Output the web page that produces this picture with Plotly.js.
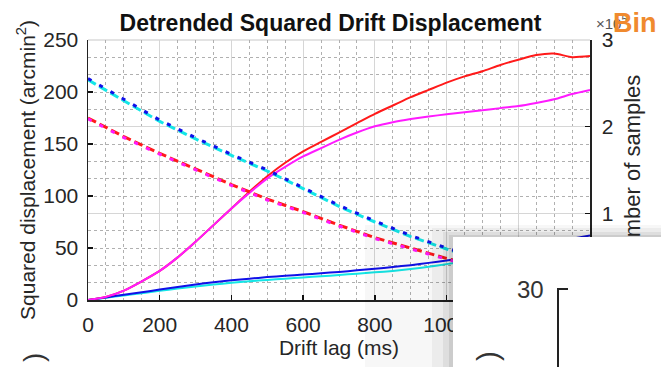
<!DOCTYPE html>
<html>
<head>
<meta charset="utf-8">
<script src="https://cdn.plot.ly/plotly-3.0.1.min.js"></script>
<style>html,body{margin:0;padding:0;background:#fff;}#chart{width:661px;height:367px;}</style>
</head>
<body>
<div id="chart"></div>
<script>
// ---- Data ----
const lag = [0,50,100,150,200,250,300,350,400,450,500,550,600,650,700,750,800,850,900,950,1000,1050,1100,1150,1200,1250,1300,1350,1400];
const redDisp     = [0,3,9,18,28,41,56,72,88,104,119,132,143,152,161,170,179,187,195,202,209,215,220,226,231,235.5,237,233.5,234.5];
const magentaDisp = [0,3,9,18,28,41,56,72,88,103,117,128,138,146,154,161,167,171,174,176.5,178.5,180.5,182.5,184.5,186.5,189.5,193,198,202];
const blueDisp    = [0,2.5,5,7.5,10,12.5,15,17,19,20.5,22,23.2,24.5,25.7,27,28.5,30,31.7,33.5,35.7,38,40.5,43,46,49,52.5,56,59,62];
const cyanDisp    = [0,2.2,4.4,6.6,8.8,11,13,14.8,16.5,18,19.3,20.5,21.7,22.8,24,25.3,26.6,28,29.8,32,34.5,37,39.5,42,45,48,51,54,57];

const lagN = [0,100,200,300,400,500,600,700,800,900,1000,1100,1200,1300,1400];
const blueSamples    = [255600,231600,207600,187200,168000,150000,129600,109200,91200,74400,60000,46800,34800,25200,16800];
const cyanSamples    = [254000,230000,206000,185800,166800,148800,128400,108000,90000,73200,58800,45600,33600,24000,15600];
const redSamples     = [210000,188400,169200,151200,133200,116400,102000,86400,72000,60000,48000,37200,27600,19200,12000];
const magentaSamples = [209000,187400,168200,150200,132200,115400,101000,85400,71000,59000,47000,36200,26600,18200,11000];

const xTicks = [0,200,400,600,800,1000,1200,1400];
const yTicks = [0,50,100,150,200,250];
const y2Ticks = [0,100000,200000,300000];
const y2TickText = ['0','1','2','3'];

const titleText = '<b>Detrended Squared Drift Displacement</b>';
const xTitle = 'Drift lag (ms)';
const yTitle = 'Squared displacement (arcmin<sup>2</sup>)';
const y2Title = 'Number of samples';

// ---- Styles ----
const FONT = 'Liberation Sans, Arial, Helvetica, sans-serif';
const C = {red:'#ff1a1a', magenta:'#ff1aff', blue:'#1010e8', cyan:'#14e6e6'};

function dashed(x, y, color, pattern){
  return {x:x, y:y, yaxis:'y2', type:'scatter', mode:'lines', line:{color:color, width:3, dash:pattern}, hoverinfo:'skip', showlegend:false};
}
function solid(x, y, color){
  return {x:x, y:y, yaxis:'y', type:'scatter', mode:'lines', line:{color:color, width:2, shape:'spline', smoothing:0.6}, hoverinfo:'skip', showlegend:false};
}

const traces = [
  dashed(lagN, cyanSamples, C.cyan, '9px,4px'),
  dashed(lagN, blueSamples, C.blue, '4px,9px'),
  dashed(lagN, redSamples, C.red, '9px,4px'),
  dashed(lagN, magentaSamples, C.magenta, '4px,9px'),
  solid(lag, cyanDisp, C.cyan),
  solid(lag, blueDisp, C.blue),
  solid(lag, redDisp, C.red),
  solid(lag, magentaDisp, C.magenta)
];

// plot area in pixels: x 88..590, y 40..300
const L = 88, R = 590, T = 40, B = 300;
const px = v => (v - L) / (R - L);
const py = v => (B - v) / (B - T);

const shapes = [
  {type:'line', xref:'paper', yref:'paper', x0:0, x1:1, y0:1, y1:1, line:{color:'#c8c8c8', width:1.2}, layer:'below'},
  // drop shadow of overlapping inset
  {type:'rect', xref:'paper', yref:'paper', x0:px(365), x1:px(700), y0:py(225), y1:py(400), fillcolor:'rgba(0,0,0,0.03)', line:{width:0}},
  {type:'rect', xref:'paper', yref:'paper', x0:px(432), x1:px(700), y0:py(228), y1:py(400), fillcolor:'rgba(0,0,0,0.045)', line:{width:0}},
  {type:'rect', xref:'paper', yref:'paper', x0:px(443), x1:px(700), y0:py(232), y1:py(400), fillcolor:'rgba(0,0,0,0.06)', line:{width:0}},
  {type:'rect', xref:'paper', yref:'paper', x0:px(449), x1:px(700), y0:py(235), y1:py(400), fillcolor:'rgba(0,0,0,0.08)', line:{width:0}}
];

function box(x0, y0, w, h, color){
  return {xref:'paper', yref:'paper', x:px(x0), y:py(y0), xanchor:'left', yanchor:'top', text:'&nbsp;', showarrow:false,
          width:w, height:h, bgcolor:color, borderpad:0, borderwidth:0, font:{size:1, color:color}};
}

const annotations = [
  {xref:'paper', yref:'paper', x:px(594), y:py(22), xanchor:'left', yanchor:'middle', text:'×10<sup>5</sup>', showarrow:false, font:{family:FONT, size:15, color:'#555'}},
  {xref:'paper', yref:'paper', x:px(611), y:py(23), xanchor:'left', yanchor:'middle', text:'<b>Bin</b>', showarrow:false, font:{family:FONT, size:27, color:'#f08a2e'}},
  {xref:'paper', yref:'paper', x:px(33), y:py(358), xanchor:'center', yanchor:'middle', text:')', textangle:-90, showarrow:false, font:{family:FONT, size:28, color:'#333'}},
  // overlapping inset panel (white) covering part of the chart
  box(453, 237, 240, 170, '#ffffff'),
  box(557, 288, 2, 100, '#222222'),
  box(557, 288, 11, 2, '#222222'),
  {xref:'paper', yref:'paper', x:px(546), y:py(289), xanchor:'right', yanchor:'middle', text:'30', showarrow:false, font:{family:FONT, size:24, color:'#333'}},
  {xref:'paper', yref:'paper', x:px(487), y:py(356), xanchor:'center', yanchor:'middle', text:')', textangle:-90, showarrow:false, font:{family:FONT, size:30, color:'#333'}}
];

const layout = {
  width:661, height:367,
  margin:{l:L, r:661-R, t:T, b:367-B, pad:0},
  paper_bgcolor:'#ffffff', plot_bgcolor:'#ffffff',
  font:{family:FONT, color:'#262626'},
  title:{text:titleText, x:px(339), xanchor:'center', y:1-23/367, yanchor:'middle', font:{family:FONT, size:23, color:'#111'}},
  xaxis:{
    range:[0,1400], tickvals:xTicks, ticks:'inside', ticklen:5, tickwidth:1.5, tickcolor:'#111',
    showline:true, linecolor:'#222', linewidth:1.5, mirror:false, zeroline:false,
    showgrid:true, gridcolor:'#d6d6d6', gridwidth:1.2,
    minor:{dtick:50, showgrid:true, griddash:'dot', gridcolor:'#b0b0b0', gridwidth:1, ticks:''},
    tickfont:{family:FONT, size:21, color:'#262626'}, ticklabelstandoff:5,
    title:{text:xTitle, font:{family:FONT, size:21, color:'#262626'}, standoff:4},
    automargin:false, fixedrange:true
  },
  yaxis:{
    range:[0,250], tickvals:yTicks, ticks:'inside', ticklen:5, tickwidth:1.5, tickcolor:'#111',
    showline:true, linecolor:'#222', linewidth:1.5, zeroline:false, showgrid:false,
    tickfont:{family:FONT, size:21, color:'#262626'}, ticklabelstandoff:4,
    title:{text:yTitle, font:{family:FONT, size:21, color:'#262626'}, standoff:2},
    automargin:false, fixedrange:true
  },
  yaxis2:{
    overlaying:'y', side:'right', range:[0,300000], tickvals:y2Ticks, ticktext:y2TickText,
    ticks:'inside', ticklen:5, tickwidth:1.5, tickcolor:'#111',
    showline:true, linecolor:'#222', linewidth:1.5, zeroline:false,
    showgrid:true, gridcolor:'#d6d6d6', gridwidth:1.2,
    minor:{dtick:20000, showgrid:true, griddash:'dot', gridcolor:'#b0b0b0', gridwidth:1, ticks:''},
    tickfont:{family:FONT, size:21, color:'#262626'}, ticklabelstandoff:6,
    title:{text:y2Title, font:{family:FONT, size:22, color:'#262626'}, standoff:12},
    automargin:false, fixedrange:true
  },
  shapes:shapes,
  annotations:annotations,
  showlegend:false
};

Plotly.newPlot('chart', traces, layout, {staticPlot:true, displayModeBar:false});
</script>
</body>
</html>
